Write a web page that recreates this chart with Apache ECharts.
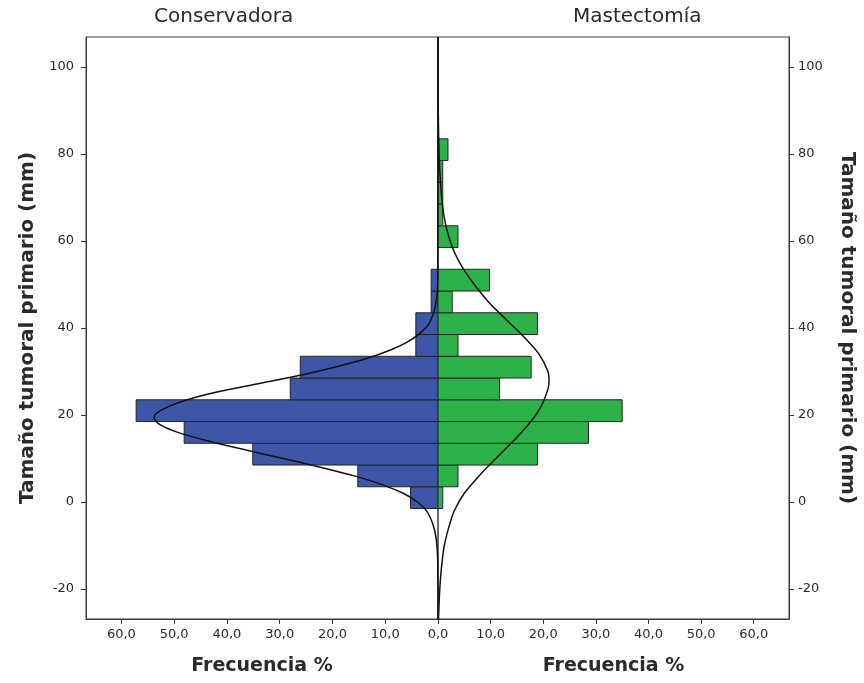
<!DOCTYPE html>
<html>
<head>
<meta charset="utf-8">
<script src="https://cdn.jsdelivr.net/npm/echarts@6/dist/echarts.min.js"></script>
<style>
  html, body { margin: 0; padding: 0; background: #fff; }
  #chart { width: 864px; height: 683px; }
</style>
</head>
<body>
<div id="chart"></div>
<script>
// Histogram bins of primary tumour size (mm): lower edge of each 5 mm bin
const binLower = [-1.5, 3.5, 8.5, 13.5, 18.5, 23.5, 28.5, 33.5, 38.5, 43.5, 48.5, 53.5, 58.5, 63.5, 68.5, 73.5, 78.5];
const binWidth = 5;

// Frequency % per bin for each surgery group
const conservadora = [5.2, 15.2, 35.1, 48.1, 57.2, 28.0, 26.1, 4.2, 4.2, 1.3, 1.3, 0, 0, 0, 0, 0, 0];
const mastectomia  = [0.9, 3.8, 18.9, 28.6, 35.0, 11.7, 17.7, 3.8, 18.9, 2.7, 9.8, 0, 3.8, 0.9, 0.9, 0.9, 1.9];

// Fitted normal curves, sampled as (size mm, frequency %)
const curveConsMm  = [-26.9, -16, -12, -8, -5, -2, 0, 2, 4, 6, 8, 10, 12, 14, 16, 18, 19.5, 21, 23, 25, 27, 29, 31, 33, 35, 37, 39, 41, 44, 48, 54, 106.9];
const curveConsPct = [0, 0.03, 0.1, 0.4, 1.0, 2.2, 3.9, 6.6, 10.6, 15.9, 22.3, 29.3, 36.6, 43.5, 49.3, 53.0, 53.8, 52.6, 48.8, 42.9, 34.9, 26.6, 19.6, 13.5, 8.9, 5.5, 3.2, 1.7, 0.7, 0.15, 0.02, 0];
const curveMastMm  = [-26.9, -22, -18, -14, -10, -6, -2, 2, 6, 10, 14, 18, 22, 26, 28, 30, 34, 38, 42, 46, 50, 54, 58, 62, 66, 70, 75, 80, 90, 106.9];
const curveMastPct = [0.1, 0.25, 0.45, 0.75, 1.2, 2.0, 3.1, 5.0, 7.8, 11.0, 14.3, 17.3, 19.6, 20.9, 21.1, 20.9, 19.2, 16.3, 12.9, 9.6, 6.9, 4.6, 2.9, 1.8, 1.1, 0.7, 0.4, 0.2, 0.05, 0];

// Axis ticks
const freqStep = 10;
const sizeTicks = [-20, 0, 20, 40, 60, 80, 100];

const groupTitles = ['Conservadora', 'Mastectomía'];
const sizeTitle = 'Tamaño tumoral primario (mm)';
const freqTitle = 'Frecuencia %';

const FONT = '"DejaVu Sans", sans-serif';
const LINE = '#3a3a3a';
const TEXT = '#2a2a2a';
const BLUE = '#3d56a8';
const GREEN = '#2db24a';

const fmtFreq = v => v.toFixed(1).replace('.', ',');

function barData(values) {
  return binLower.map((lo, i) => [lo, values[i]]).filter(d => d[1] > 0);
}
function curveData(mm, pct) {
  return mm.map((m, i) => [pct[i], m]);
}
function barRenderer(color) {
  return function (params, api) {
    const lo = api.value(0);
    const v = api.value(1);
    const a = api.coord([0, lo]);
    const b = api.coord([v, lo + binWidth]);
    return {
      type: 'rect',
      shape: {
        x: Math.min(a[0], b[0]),
        y: Math.min(a[1], b[1]),
        width: Math.abs(b[0] - a[0]),
        height: Math.abs(b[1] - a[1])
      },
      style: { fill: color, stroke: '#262626', lineWidth: 1 }
    };
  };
}

const yMin = -26.9, yMax = 106.9, xMax = 66.7;

function xAxisCfg(idx, inverse, showZero) {
  return {
    type: 'value', gridIndex: idx, inverse: inverse,
    min: 0, max: xMax, interval: freqStep,
    axisLine: { show: true, onZero: false, lineStyle: { color: LINE, width: 1 } },
    axisTick: { show: true, inside: false, length: 5, lineStyle: { color: LINE, width: 1 } },
    axisLabel: {
      showMaxLabel: false, margin: 9,
      formatter: v => (v % freqStep !== 0 || (v === 0 && !showZero)) ? '' : fmtFreq(v),
      fontFamily: FONT, fontSize: 13, color: TEXT
    },
    splitLine: { show: false },
    name: freqTitle, nameLocation: 'middle', nameGap: 38,
    nameTextStyle: { fontFamily: FONT, fontSize: 19, fontWeight: 'bold', color: TEXT }
  };
}
function yAxisCfg(idx, position, rotate, margin) {
  return {
    type: 'value', gridIndex: idx, position: position,
    min: yMin, max: yMax,
    axisLine: { show: true, onZero: false, lineStyle: { color: LINE, width: 1 } },
    axisTick: { show: true, inside: false, length: 5, customValues: sizeTicks, lineStyle: { color: LINE, width: 1 } },
    axisLabel: {
      customValues: sizeTicks, margin: margin,
      formatter: v => String(v),
      fontFamily: FONT, fontSize: 13, color: TEXT
    },
    splitLine: { show: false },
    name: sizeTitle, nameLocation: 'middle', nameGap: 48, nameRotate: rotate,
    nameTextStyle: { fontFamily: FONT, fontSize: 20, fontWeight: 'bold', color: TEXT }
  };
}

const chart = echarts.init(document.getElementById('chart'), null, { renderer: 'canvas' });
chart.setOption({
  backgroundColor: '#fff',
  animation: false,
  grid: [
    { left: 86, top: 37, width: 352, height: 582, show: true, borderColor: LINE, borderWidth: 1, backgroundColor: 'transparent' },
    { left: 438, top: 37, width: 351, height: 582, show: true, borderColor: LINE, borderWidth: 1, backgroundColor: 'transparent' }
  ],
  xAxis: [
    xAxisCfg(0, true, true),
    xAxisCfg(1, false, false)
  ],
  yAxis: [
    yAxisCfg(0, 'left', 90, 12),
    yAxisCfg(1, 'right', -90, 9)
  ],
  graphic: [
    { type: 'text', left: 224 - 70, top: 7, style: { text: groupTitles[0], fontFamily: FONT, fontSize: 20, fill: TEXT } },
    { type: 'text', left: 637 - 64, top: 7, style: { text: groupTitles[1], fontFamily: FONT, fontSize: 20, fill: TEXT } }
  ],
  series: [
    {
      type: 'custom', name: groupTitles[0], xAxisIndex: 0, yAxisIndex: 0,
      renderItem: barRenderer(BLUE), encode: { x: 1, y: 0 },
      data: barData(conservadora), z: 2
    },
    {
      type: 'custom', name: groupTitles[1], xAxisIndex: 1, yAxisIndex: 1,
      renderItem: barRenderer(GREEN), encode: { x: 1, y: 0 },
      data: barData(mastectomia), z: 2
    },
    {
      type: 'line', xAxisIndex: 0, yAxisIndex: 0,
      data: curveData(curveConsMm, curveConsPct),
      smooth: 0.3, symbol: 'none',
      lineStyle: { color: '#111', width: 1.5 }, z: 5
    },
    {
      type: 'line', xAxisIndex: 1, yAxisIndex: 1,
      data: curveData(curveMastMm, curveMastPct),
      smooth: 0.3, symbol: 'none',
      lineStyle: { color: '#111', width: 1.5 }, z: 5
    }
  ]
});
</script>
</body>
</html>
